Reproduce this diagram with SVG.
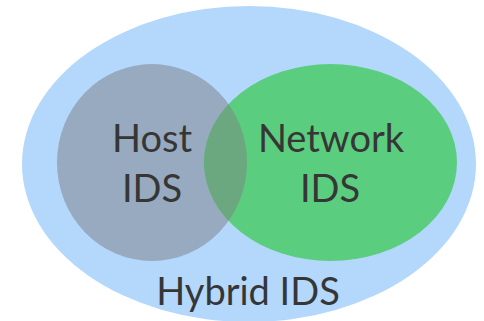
<svg xmlns="http://www.w3.org/2000/svg" width="484" height="321" viewBox="0 0 484 321">
<style>
text{font-family:"Lato","Open Sans","Liberation Sans",sans-serif;font-size:38px;fill:#363636;text-anchor:middle}
</style>
<defs>
<clipPath id="gclip"><ellipse cx="152" cy="162.5" rx="95" ry="98.5"/></clipPath>
</defs>
<rect width="484" height="321" fill="#ffffff"/>
<g id="hybrid">
<ellipse cx="249" cy="164" rx="227" ry="158" fill="#b3d8fc"/>
<text x="248" y="305">Hybrid IDS</text>
</g>
<g id="host">
<ellipse cx="152" cy="162.5" rx="95" ry="98.5" fill="#97aabf"/>
<text x="152" y="152">Host</text>
<text x="152" y="202">IDS</text>
</g>
<g id="network">
<ellipse cx="330.5" cy="162.5" rx="126.5" ry="98.5" fill="#5bcd7e"/>
<ellipse cx="330.5" cy="162.5" rx="126.5" ry="98.5" fill="#6ba77f" clip-path="url(#gclip)"/>
<text x="331" y="152">Network</text>
<text x="330" y="202">IDS</text>
</g>
<g id="connectors"/>
</svg>
